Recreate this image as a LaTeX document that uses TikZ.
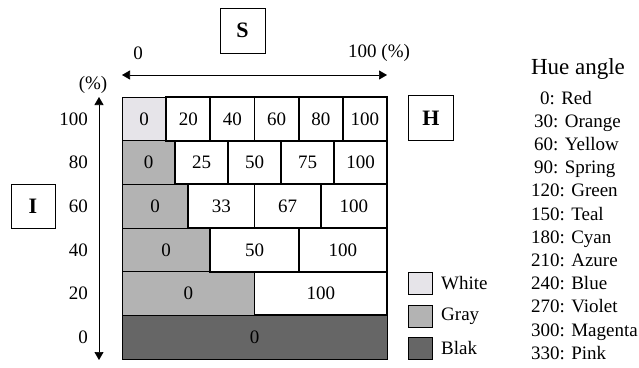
\documentclass[tikz,border=0pt]{standalone}
\usepackage{fontspec}
\setmainfont{Liberation Serif}
\usetikzlibrary{arrows.meta}
\definecolor{cwhite}{HTML}{E6E4E9}
\definecolor{cgray}{HTML}{B3B3B3}
\definecolor{cdark}{HTML}{666666}
\tikzset{
  txt/.style={inner sep=0pt,font=\fontsize{19}{22}\selectfont},
  firstcell/.style={rectangle,inner sep=0pt,draw=black,line width=0.7pt,font=\fontsize{19}{22}\selectfont},
  whitecell/.style={rectangle,inner sep=0pt,draw=black,fill=white,line width=1.8pt,font=\fontsize{19}{22}\selectfont},
  letterbox/.style={rectangle,draw=black,line width=0.7pt,minimum width=45pt,minimum height=45pt,inner sep=0pt,font=\fontsize{22}{24}\selectfont\bfseries},
  legbox/.style={rectangle,draw=black,line width=0.7pt,minimum width=24pt,minimum height=22pt,inner sep=0pt},
  axis/.style={line width=0.7pt,{Triangle[width=9pt,length=8pt]}-{Triangle[width=9pt,length=8pt]}},
  hue/.style={anchor=base west,inner sep=0pt,font=\fontsize{19}{22}\selectfont},
}
\begin{document}
\begin{tikzpicture}[x=1pt,y=-1pt]
\useasboundingbox (0,0) rectangle (639,367);
% first (gray) cells
\foreach \k/\labels in {1/{0,20,40,60,80,100},2/{0,25,50,75,100},3/{0,33,67,100},4/{0,50,100},5/{0,100}}{
  \pgfmathsetmacro\w{265/(7-\k)}
  \pgfmathsetmacro\yc{97+(\k-0.5)*43.67}
  \ifnum\k=1 \def\fc{cwhite}\else\def\fc{cgray}\fi
  \node[firstcell,fill=\fc,minimum width=\w pt,minimum height=43.67pt] (c\k-1) at ({122+0.5*\w},\yc) {0};
}
% white cells
\foreach \k/\labels in {1/{0,20,40,60,80,100},2/{0,25,50,75,100},3/{0,33,67,100},4/{0,50,100},5/{0,100}}{
  \pgfmathsetmacro\w{265/(7-\k)}
  \pgfmathsetmacro\yc{97+(\k-0.5)*43.67}
  \foreach \v [count=\j] in \labels {
    \ifnum\j>1
      \node[whitecell,minimum width=\w pt,minimum height=43.67pt] (c\k-\j) at ({122+(\j-0.5)*\w},\yc) {\v};
    \fi
  }
}
\node[firstcell,fill=cdark,minimum width=265pt,minimum height=43.67pt] (c6-1) at (254.5,{97+5.5*43.67}) {0};

% axes
\coordinate (sl) at (122,75);
\coordinate (sr) at (387,75);
\draw[axis] (sl) -- (sr);
\coordinate (it) at (99,97);
\coordinate (ib) at (99,360);
\draw[axis] (it) -- (ib);

\node[txt] (s0) at (138,53) {0};
\node[txt,anchor=west] (s100) at (348,53) {100 (\%)};
\node[txt] (ipct) at (93,85) {(\%)};
\foreach \lab [count=\r] in {100,80,60,40,20,0}{
  \node[txt,anchor=east] (t\r) at (88,{97+(\r-0.5)*43.67}) {\lab};
}

% letter boxes
\node[letterbox] (S) at (242.5,30.5) {S};
\node[letterbox] (H) at (431,118) {H};
\node[letterbox,minimum width=44pt,minimum height=44pt] (I) at (33,206) {I};

% legend
\node[legbox,fill=cwhite] (lw) at (420,283) {};
\node[legbox,fill=cgray] (lg) at (420,316) {};
\node[legbox,fill=cdark] (lb) at (420,348) {};
\node[txt,anchor=west] (lwt) at (441,283) {White};
\node[txt,anchor=west] (lgt) at (441,316) {Gray};
\node[txt,anchor=west] (lbt) at (441,348) {Blak};

% hue list
\node[anchor=base,inner sep=0pt,font=\fontsize{23}{25}\selectfont] (hue) at (578,74) {Hue angle};
\node[hue] (h0) at (540,104) {0: Red};
\node[hue] (h1) at (534,{104+1*23.2}) {30: Orange};
\node[hue] (h2) at (534,{104+2*23.2}) {60: Yellow};
\node[hue] (h3) at (534,{104+3*23.2}) {90: Spring};
\node[hue] (h4) at (531,{104+4*23.2}) {120: Green};
\node[hue] (h5) at (531,{104+5*23.2}) {150: Teal};
\node[hue] (h6) at (531,{104+6*23.2}) {180: Cyan};
\node[hue] (h7) at (531,{104+7*23.2}) {210: Azure};
\node[hue] (h8) at (531,{104+8*23.2}) {240: Blue};
\node[hue] (h9) at (531,{104+9*23.2}) {270: Violet};
\node[hue] (h10) at (531,{104+10*23.2}) {300: Magenta};
\node[hue] (h11) at (531,{104+11*23.2}) {330: Pink};
\end{tikzpicture}
\end{document}
